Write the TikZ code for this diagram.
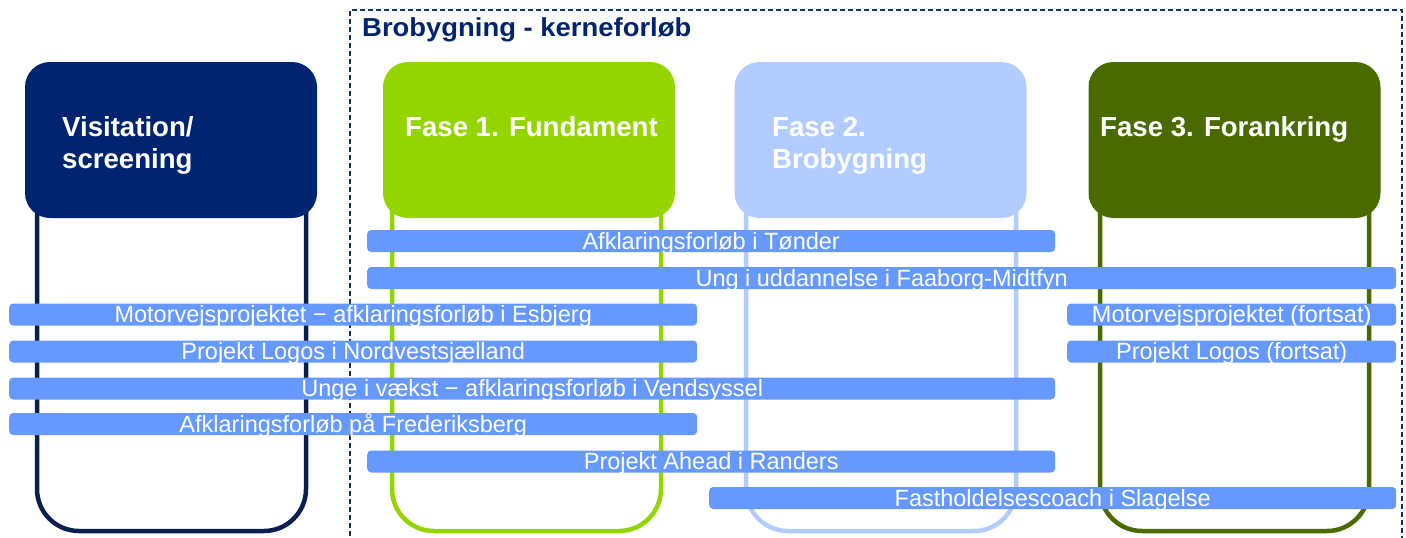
\documentclass[tikz,border=0pt]{standalone}
\usepackage{fontspec}
\setmainfont{Liberation Sans}
\definecolor{navy}{HTML}{00246F}
\definecolor{navyline}{HTML}{0B1F4F}
\definecolor{lime}{HTML}{94D500}
\definecolor{lightblue}{HTML}{B2CCFF}
\definecolor{olive}{HTML}{4A6A00}
\definecolor{barblue}{HTML}{6699FF}
\definecolor{dashnavy}{HTML}{14305F}
\tikzset{
  hdr/.style={rounded corners=25pt, minimum width=292pt, minimum height=156pt, inner sep=0pt, draw=none},
  hdrtext/.style={anchor=base west, inner sep=0pt, text=white, font=\fontsize{27.6}{33}\selectfont\bfseries},
  outline/.style={line width=4.5pt, rounded corners=42pt},
  bar/.style={fill=barblue, rounded corners=4pt, minimum height=22pt, inner sep=0pt, anchor=west,
    text=white, text height=16.8pt, text depth=0pt, font=\fontsize{23.5}{26}\selectfont},
}
\begin{document}
\begin{tikzpicture}[x=1pt,y=-1pt]
\useasboundingbox (0,0) rectangle (1406,538);
\clip (0,0) rectangle (1406,538);
% dashed frame
\draw[dashnavy, line width=1.7pt, dash pattern=on 5pt off 3pt] (350,560) -- (350,10) -- (1402,10) -- (1402,560);
\node[anchor=base west, inner sep=0pt, text=navy, font=\fontsize{26}{30}\selectfont\bfseries] (title) at (362,36) {\scalebox{1.055}[1]{Brobygning - kerneforløb}};
% column outlines
\draw[outline, navyline] (37,200) -- (37,531) -- (306,531) -- (306,200);
\draw[outline, lime] (392,200) -- (392,531) -- (661,531) -- (661,200);
\draw[outline, lightblue] (746,200) -- (746,531) -- (1016,531) -- (1016,200);
\draw[outline, olive] (1100,200) -- (1100,531) -- (1369,531) -- (1369,200);
% headers
\node[hdr, fill=navy] (h1) at (171,140) {};
\node[hdr, fill=lime] (h2) at (529,140) {};
\node[hdr, fill=lightblue] (h3) at (880.5,140) {};
\node[hdr, fill=olive] (h4) at (1234.5,140) {};
\node[hdrtext] (t1a) at (62,136) {Visitation/};
\node[hdrtext] (t1b) at (62,168.5) {screening};
\node[hdrtext] (t2) at (405,136) {Fase 1. Fundament};
\node[hdrtext] (t3a) at (772,136) {Fase 2.};
\node[hdrtext] (t3b) at (772,168.5) {Brobygning};
\node[hdrtext] (t4) at (1100,136) {Fase 3. Forankring};
% bars
\node[bar, minimum width=688pt] (b1) at (367,241) {Afklaringsforløb i Tønder};
\node[bar, minimum width=1029pt] (b2) at (367,278) {Ung i uddannelse i Faaborg-Midtfyn};
\node[bar, minimum width=688pt] (b3) at (9,314.5) {Motorvejsprojektet − afklaringsforløb i Esbjerg};
\node[bar, minimum width=329pt] (b3b) at (1067,314.5) {Motorvejsprojektet (fortsat)};
\node[bar, minimum width=688pt] (b4) at (9,351.5) {Projekt Logos i Nordvestsjælland};
\node[bar, minimum width=329pt] (b4b) at (1067,351.5) {Projekt Logos (fortsat)};
\node[bar, minimum width=1046pt] (b5) at (9,388.5) {Unge i vækst − afklaringsforløb i Vendsyssel};
\node[bar, minimum width=688pt] (b6) at (9,424) {Afklaringsforløb på Frederiksberg};
\node[bar, minimum width=688pt] (b7) at (367,461.5) {Projekt Ahead i Randers};
\node[bar, minimum width=687pt] (b8) at (709,498) {Fastholdelsescoach i Slagelse};
\end{tikzpicture}
\end{document}
